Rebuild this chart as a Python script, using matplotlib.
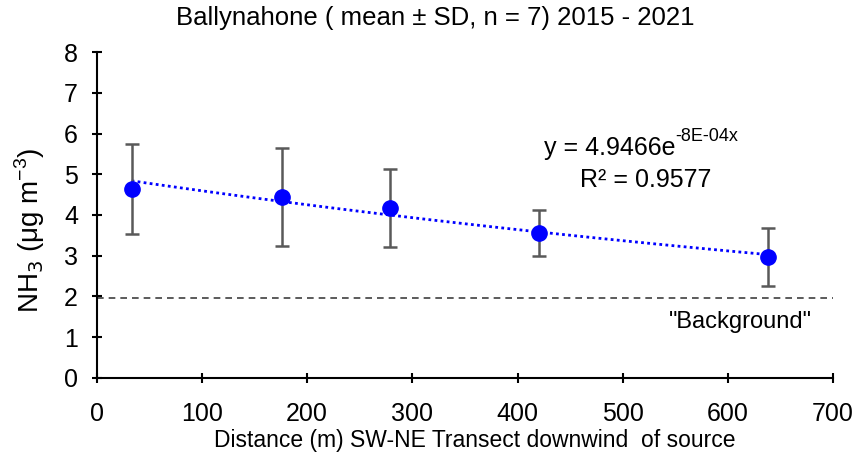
import matplotlib
matplotlib.use("Agg")
import matplotlib.pyplot as plt
import numpy as np

plt.rcParams['font.family'] = ['Liberation Sans', 'DejaVu Sans']

# distance along transect (m), mean NH3 and SD
distance = [33, 176, 279, 420, 638]
nh3_mean = [4.64, 4.44, 4.17, 3.56, 2.97]
nh3_sd = [1.10, 1.20, 0.95, 0.56, 0.72]
background = 1.95

fig = plt.figure(figsize=(8.57, 4.53), dpi=100)
ax = fig.add_axes([0.113, 0.166, 0.859, 0.719])

# exponential trendline (fit on log values, like excel)
b, ln_a = np.polyfit(distance, np.log(nh3_mean), 1)
xs = np.linspace(min(distance), max(distance), 100)
ax.plot(xs, np.exp(ln_a) * np.exp(b * xs), color='#0000ff', lw=2, ls=(0, (1, 1.2)), zorder=2)

ax.errorbar(distance, nh3_mean, yerr=nh3_sd, fmt='o', color='#0000ff', ms=11,
            ecolor='#595959', elinewidth=1.8, capsize=5, capthick=1.8, zorder=3)

ax.axhline(background, color='#404040', lw=1.2, ls=(0, (4, 3)), zorder=1)
ax.text(612, 1.37, '"Background"', ha='center', va='center', fontsize=17)

eq = ax.text(550, 5.64, 'y = 4.9466e', ha='right', va='center', fontsize=18)
ax.annotate('-8E-04x', xy=(1, 0.62), xycoords=eq, ha='left', va='bottom', fontsize=13)
ax.text(522, 4.86, 'R² = 0.9577', ha='center', va='center', fontsize=18)

ax.set_xlim(0, 700)
ax.set_ylim(0, 8)
ax.set_xticks(range(0, 701, 100))
ax.set_yticks(range(0, 9))
ax.tick_params(labelsize=18, width=1.5, length=7, direction='inout')
ax.tick_params(axis='x', pad=14)
ax.tick_params(axis='y', pad=10)
for s in ['top', 'right']:
    ax.spines[s].set_visible(False)
for s in ['left', 'bottom']:
    ax.spines[s].set_linewidth(1.5)

ax.set_xlabel('Distance (m) SW-NE Transect downwind  of source', fontsize=16.5)
ax.xaxis.set_label_coords((475 - 97) / 736, -(441 - 378) / 326, transform=ax.transAxes)
ax.xaxis.label.set_va('center')
ax.set_ylabel(r'NH$_3$ ($\mathregular{\mu}$g m$^{\mathregular{-3}}$)', fontsize=20)
ax.yaxis.set_label_coords(-(97 - 30) / 736, (378 - 230) / 326, transform=ax.transAxes)
ax.yaxis.label.set_va('center')
fig.text(435 / 857, 1 - 18 / 453, 'Ballynahone ( mean ± SD, n = 7) 2015 - 2021',
         ha='center', va='center', fontsize=18.5)

fig.savefig('out.png', dpi=100)
